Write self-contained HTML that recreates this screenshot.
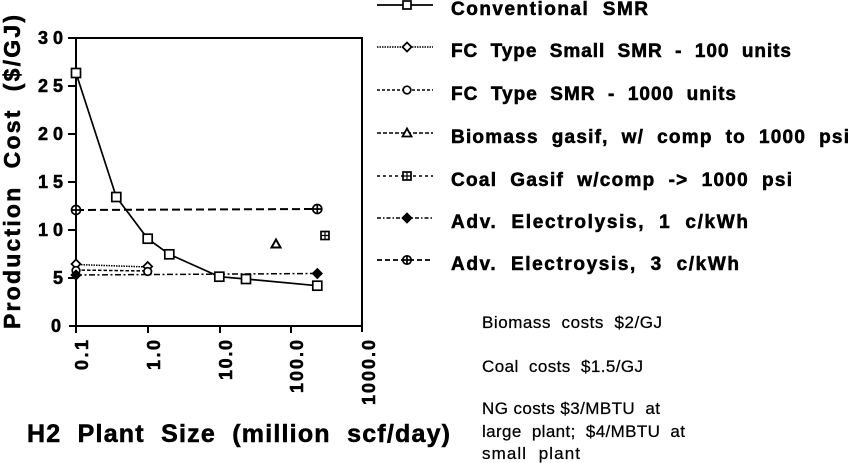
<!DOCTYPE html>
<html><head><meta charset="utf-8"><style>
html,body{margin:0;padding:0;background:#fff;}
svg{display:block;}
text{font-family:"Liberation Sans",Arial,sans-serif;fill:#000;white-space:pre;}
.bb{font-weight:bold;stroke:#000;stroke-width:0.55;}
.nn{stroke:#000;stroke-width:0.25;}
</style></head><body>
<svg width="850" height="463" viewBox="0 0 850 463" xmlns="http://www.w3.org/2000/svg" xml:space="preserve">
<rect x="0" y="0" width="850" height="463" fill="#fff"/>
<!-- frame -->
<g stroke="#000" stroke-width="2" fill="none">
<line x1="68" y1="38" x2="363" y2="38"/>
<line x1="76" y1="38" x2="76" y2="326"/>
<line x1="362" y1="38" x2="362" y2="332"/>
<line x1="69" y1="326" x2="362" y2="326"/>
<line x1="68" y1="86" x2="76" y2="86"/>
<line x1="68" y1="134" x2="76" y2="134"/>
<line x1="68" y1="182" x2="76" y2="182"/>
<line x1="68" y1="230" x2="76" y2="230"/>
<line x1="68" y1="278" x2="76" y2="278"/>
<line x1="76" y1="326" x2="76" y2="333"/>
<line x1="148" y1="326" x2="148" y2="333"/>
<line x1="220" y1="326" x2="220" y2="333"/>
<line x1="291" y1="326" x2="291" y2="333"/>
</g>
<!-- y tick labels -->
<g class="bb" font-size="18" text-anchor="end">
<text class="bb" x="63" y="44" textLength="25" lengthAdjust="spacing">30</text>
<text class="bb" x="63" y="92" textLength="25" lengthAdjust="spacing">25</text>
<text class="bb" x="63" y="140" textLength="25" lengthAdjust="spacing">20</text>
<text class="bb" x="63" y="188" textLength="25" lengthAdjust="spacing">15</text>
<text class="bb" x="63" y="236" textLength="25" lengthAdjust="spacing">10</text>
<text class="bb" x="63" y="284">5</text>
<text class="bb" x="61" y="332">0</text>
</g>
<!-- x tick labels -->
<g font-size="18" text-anchor="end">
<text class="bb" transform="translate(88,340) rotate(-90)" textLength="30" lengthAdjust="spacing">0.1</text>
<text class="bb" transform="translate(160,340) rotate(-90)" textLength="30" lengthAdjust="spacing">1.0</text>
<text class="bb" transform="translate(232,340) rotate(-90)" textLength="40" lengthAdjust="spacing">10.0</text>
<text class="bb" transform="translate(303,340) rotate(-90)" textLength="53" lengthAdjust="spacing">100.0</text>
<text class="bb" transform="translate(375,340) rotate(-90)" textLength="65" lengthAdjust="spacing">1000.0</text>
</g>
<!-- axis titles -->
<text class="bb" transform="translate(20,329) rotate(-90)" font-size="23" textLength="314" lengthAdjust="spacing">Production  Cost  ($/GJ)</text>
<text class="bb" x="27" y="442" font-size="25" textLength="423" lengthAdjust="spacing">H2  Plant  Size  (million  scf/day)</text>

<!-- series lines -->
<g fill="none" stroke="#000">
<polyline stroke-width="1.7" points="76,73 116.3,197 147.7,238.7 169.3,254.3 219.3,276.7 246,279 317.3,285.7"/>
<line x1="76" y1="210" x2="317.3" y2="209" stroke-width="2" stroke-dasharray="8 4"/>
<line x1="76" y1="264.5" x2="147.7" y2="267" stroke-width="1.5" stroke-dasharray="1.5 1"/>
<line x1="76" y1="270" x2="147.7" y2="271" stroke-width="1.5" stroke-dasharray="3.5 2"/>
<line x1="76" y1="275" x2="317.3" y2="273.5" stroke-width="1.5" stroke-dasharray="6 2.5 2 2.5"/>
</g>
<!-- markers -->
<g stroke="#000" stroke-width="1.7" fill="#fff">
<rect x="71.5" y="68.5" width="9" height="9"/>
<rect x="111.8" y="192.5" width="9" height="9"/>
<rect x="143.2" y="234.2" width="9" height="9"/>
<rect x="164.8" y="249.8" width="9" height="9"/>
<rect x="214.8" y="272.2" width="9" height="9"/>
<rect x="241.5" y="274.5" width="9" height="9"/>
<rect x="312.8" y="281.2" width="9" height="9"/>
<circle cx="76" cy="210" r="4.5"/><path d="M71.5 210H80.5M76 205.5V214.5" fill="none"/>
<circle cx="317.3" cy="209" r="4.5"/><path d="M312.8 209H321.8M317.3 204.5V213.5" fill="none"/>
<path d="M76 259.5L80.5 264L76 268.5L71.5 264Z"/>
<path d="M147.7 262L152.2 266.5L147.7 271L143.2 266.5Z"/>
<circle cx="76" cy="270.5" r="3.8"/>
<circle cx="147.7" cy="271.5" r="3.8"/>
<path d="M76 270.5L80.5 275L76 279.5L71.5 275Z" fill="#000"/>
<path d="M317.3 269L321.8 273.5L317.3 278L312.8 273.5Z" fill="#000"/>
<path d="M276 239.5L280.5 247.5L271.5 247.5Z" stroke-width="2"/>
<rect x="321" y="231.5" width="8" height="8"/><path d="M321 235.5H329M325 231.5V239.5" fill="none" stroke-width="1.2"/>
</g>

<!-- legend -->
<g fill="none" stroke="#000">
<line x1="377" y1="5" x2="433" y2="5" stroke-width="1.7"/>
<line x1="377" y1="47" x2="433" y2="47" stroke-width="1.4" stroke-dasharray="1.5 1"/>
<line x1="377" y1="90" x2="433" y2="90" stroke-width="1.4" stroke-dasharray="3 2"/>
<line x1="377" y1="133" x2="433" y2="133" stroke-width="1.4" stroke-dasharray="4 2"/>
<line x1="377" y1="176" x2="433" y2="176" stroke-width="1.4" stroke-dasharray="3 3"/>
<line x1="377" y1="218" x2="433" y2="218" stroke-width="1.4" stroke-dasharray="4 2 1.5 2"/>
<line x1="377" y1="260" x2="433" y2="260" stroke-width="1.8" stroke-dasharray="5 3"/>
</g>
<g stroke="#000" stroke-width="1.7" fill="#fff">
<rect x="403" y="1" width="8" height="8"/>
<path d="M407 42.5L411.5 47L407 51.5L402.5 47Z"/>
<circle cx="407" cy="90" r="3.8"/>
<path d="M407 128.5L411.5 136.5L402.5 136.5Z" stroke-width="1.8"/>
<rect x="403" y="172" width="8" height="8"/><path d="M403 176H411M407 172V180" fill="none" stroke-width="1.2"/>
<path d="M407 213.5L411.5 218L407 222.5L402.5 218Z" fill="#000"/>
<circle cx="407" cy="260" r="4.2"/><path d="M402.8 260H411.2M407 255.8V264.2" fill="none"/>
</g>
<g font-size="19">
<text class="bb" x="451" y="15" textLength="197" lengthAdjust="spacing">Conventional  SMR</text>
<text class="bb" x="451" y="57" textLength="340" lengthAdjust="spacing">FC  Type  Small  SMR  -  100  units</text>
<text class="bb" x="451" y="100" textLength="285" lengthAdjust="spacing">FC  Type  SMR  -  1000  units</text>
<text class="bb" x="451" y="143" textLength="398" lengthAdjust="spacing">Biomass  gasif,  w/  comp  to  1000  psi</text>
<text class="bb" x="451" y="186" textLength="341" lengthAdjust="spacing">Coal  Gasif  w/comp  -&gt;  1000  psi</text>
<text class="bb" x="451" y="228" textLength="297" lengthAdjust="spacing">Adv.  Electrolysis,  1  c/kWh</text>
<text class="bb" x="451" y="270" textLength="288" lengthAdjust="spacing">Adv.  Electroysis,  3  c/kWh</text>
</g>

<!-- annotations -->
<g font-size="17">
<text class="nn" x="482" y="328" textLength="180" lengthAdjust="spacing">Biomass  costs  $2/GJ</text>
<text class="nn" x="482" y="372" textLength="161" lengthAdjust="spacing">Coal  costs  $1.5/GJ</text>
<text class="nn" x="482" y="414" textLength="178" lengthAdjust="spacing">NG costs $3/MBTU  at</text>
<text class="nn" x="482" y="437" textLength="203" lengthAdjust="spacing">large  plant;  $4/MBTU  at</text>
<text class="nn" x="482" y="459" textLength="98" lengthAdjust="spacing">small  plant</text>
</g>
</svg>
</body></html>
